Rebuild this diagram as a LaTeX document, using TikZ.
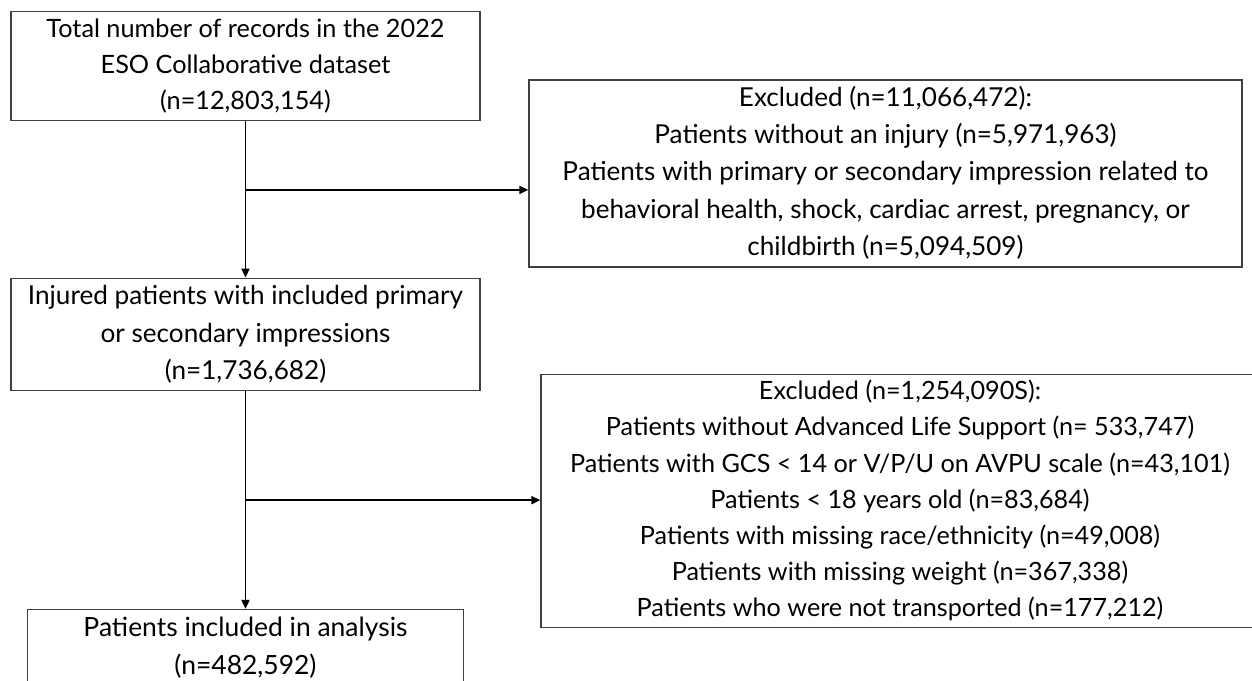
\documentclass[tikz,border=0pt]{standalone}
\usepackage{fontspec}
\setmainfont{Lato}
\usepackage{graphicx}
\usetikzlibrary{arrows.meta,calc,positioning}
% scale a block of centred lines to a given width
\newcommand{\fitlines}[2]{\resizebox{#1}{!}{\begin{tabular}{@{}c@{}}#2\end{tabular}}}
\tikzset{
  stepbox/.style={
    draw=black!75, line width=1.3pt, fill=white, align=center,
    inner sep=0pt, font=\fontsize{23}{33}\selectfont
  },
  flow/.style={-{Triangle[length=9pt,width=8pt]}, line width=1.8pt, draw=black}
}

\begin{document}
\begin{tikzpicture}[x=1pt,y=-1pt]
  \useasboundingbox (0,0) rectangle (1252,680);
  % main column
  \node[stepbox,minimum width=469pt,minimum height=108pt] (total) at (245.5,66)
    {\fitlines{398pt}{Total number of records in the 2022\\ESO Collaborative dataset\\(n=12,803,154)}};
  \node[stepbox,minimum width=469pt,minimum height=109pt] (injured) at (245.5,334.5)
    {\fitlines{435pt}{Injured patients with included primary\\or secondary impressions\\(n=1,736,682)}};
  \node[stepbox,minimum width=436pt,minimum height=71pt] (included) at (245.5,647.5)
    {\fitlines{324pt}{Patients included in analysis\\(n=482,592)}};
  % exclusions
  \node[stepbox,minimum width=713pt,minimum height=173pt] (excl1) at (885.5,173.5)
    {\fitlines{646pt}{Excluded (n=11,066,472):\\Patients without an injury (n=5,971,963)\\Patients with primary or secondary impression related to\\behavioral health, shock, cardiac arrest, pregnancy, or\\childbirth (n=5,094,509)}};
  \node[stepbox,minimum width=718pt,minimum height=238pt] (excl2) at (900,501)
    {\fitlines{660pt}{Excluded (n=1,254,090S):\\Patients without Advanced Life Support (n= 533,747)\\Patients with GCS < 14 or V/P/U on AVPU scale (n=43,101)\\Patients < 18 years old (n=83,684)\\Patients with missing race/ethnicity (n=49,008)\\Patients with missing weight (n=367,338)\\Patients who were not transported (n=177,212)}};
  % connectors
  \draw[flow] (total) -- (injured);
  \draw[flow] (injured) -- (included);
  \coordinate (split1) at ($(total.south)!0.44!(injured.north)$);
  \coordinate (split2) at ($(injured.south)!0.5!(included.north)$);
  \draw[flow] (split1) -- (split1 -| excl1.west);
  \draw[flow] (split2) -- (split2 -| excl2.west);
\end{tikzpicture}
\end{document}
